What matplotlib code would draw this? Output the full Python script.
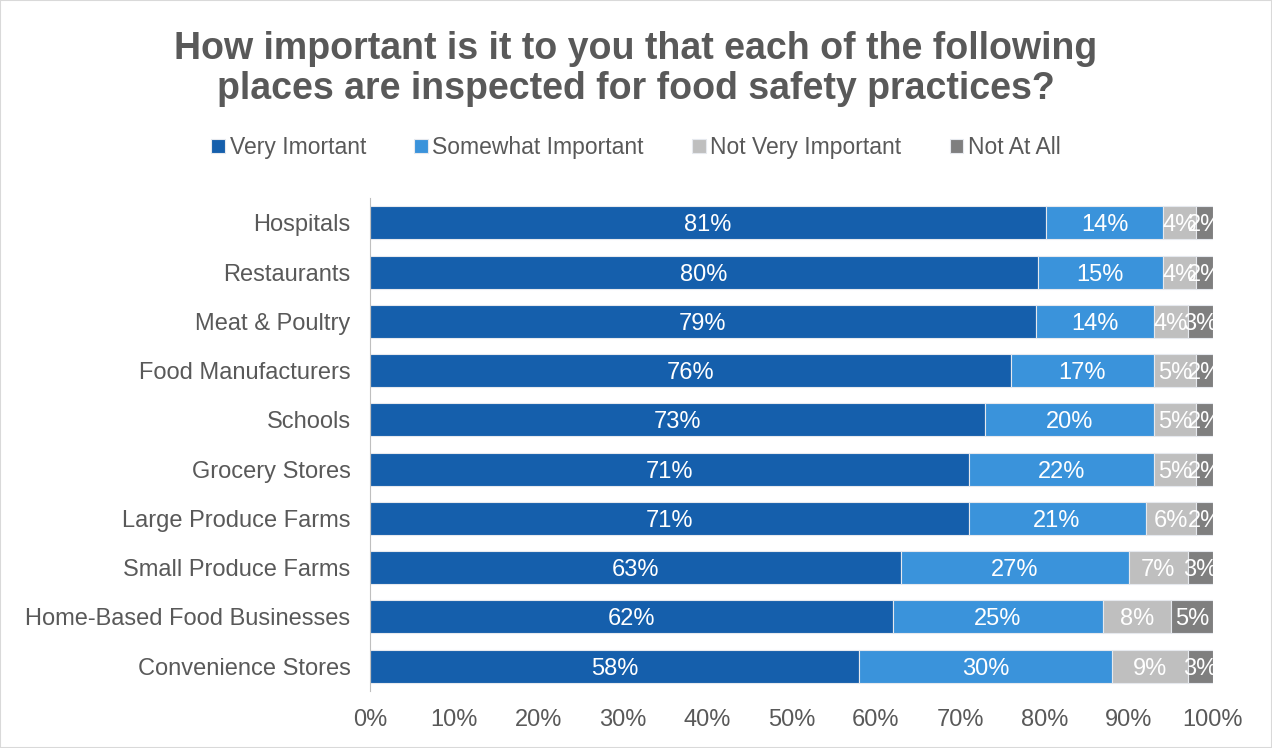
import numpy as np
import matplotlib.pyplot as plt
from matplotlib.patches import Rectangle

plt.rcParams['font.family'] = ['Liberation Sans', 'DejaVu Sans']

places = ["Hospitals", "Restaurants", "Meat & Poultry", "Food Manufacturers",
          "Schools", "Grocery Stores", "Large Produce Farms",
          "Small Produce Farms", "Home-Based Food Businesses", "Convenience Stores"]
very = [81, 80, 79, 76, 73, 71, 71, 63, 62, 58]
somewhat = [14, 15, 14, 17, 20, 22, 21, 27, 25, 30]
not_very = [4, 4, 4, 5, 5, 5, 6, 7, 8, 9]
not_at_all = [2, 2, 3, 2, 2, 2, 2, 3, 5, 3]

series = ["Very Imortant", "Somewhat Important", "Not Very Important", "Not At All"]
colors = ["#155fac", "#3a93db", "#bfbfbf", "#7f7f7f"]
ticks = ["0%", "10%", "20%", "30%", "40%", "50%", "60%", "70%", "80%", "90%", "100%"]

grey = "#595959"
data = np.array([very, somewhat, not_very, not_at_all], dtype=float)
share = data / data.sum(axis=0)

fig = plt.figure(figsize=(12.72, 7.48), dpi=100)
ax = fig.add_axes([0.2909, 0.0767, 0.6627, 0.6581])

y = np.arange(len(places))
left = np.zeros(len(places))
for k in range(4):
    ax.barh(y, share[k], left=left, height=0.67, color=colors[k],
            edgecolor="#e6e9ee", linewidth=0.8, label=series[k])
    for i in range(len(places)):
        ax.text(left[i] + share[k][i] / 2, y[i], "{}%".format(int(data[k][i])),
                ha="center", va="center_baseline", color="white", fontsize=17,
                clip_on=True)
    left = left + share[k]

ax.set_ylim(len(places) - 0.5, -0.5)
ax.set_xlim(0, 1)
ax.set_yticks(y)
ax.set_yticklabels(places, fontsize=17, color=grey)
ax.set_xticks(np.linspace(0, 1, 11))
ax.set_xticklabels(ticks, fontsize=17, color=grey)
ax.tick_params(axis="both", length=0)
ax.tick_params(axis="x", pad=13)
ax.tick_params(axis="y", pad=14)
for s in ["top", "right", "bottom"]:
    ax.spines[s].set_visible(False)
ax.spines["left"].set_color("#bfbfbf")

fig.suptitle("How important is it to you that each of the following\nplaces are inspected for food safety practices?",
             x=0.5, y=0.958, fontsize=27, fontweight="bold", color=grey, linespacing=1.13)

fig.legend(loc="center", bbox_to_anchor=(0.5, 0.803), ncol=4, frameon=False,
           fontsize=16.5, labelcolor=grey, handlelength=0.6, handleheight=0.6,
           handletextpad=0.2, columnspacing=2.1)

fig.patches.append(Rectangle((0, 0), 1, 1, transform=fig.transFigure, fill=False,
                             edgecolor="#d9d9d9", linewidth=1.5))

fig.savefig("out.png", dpi=100)
